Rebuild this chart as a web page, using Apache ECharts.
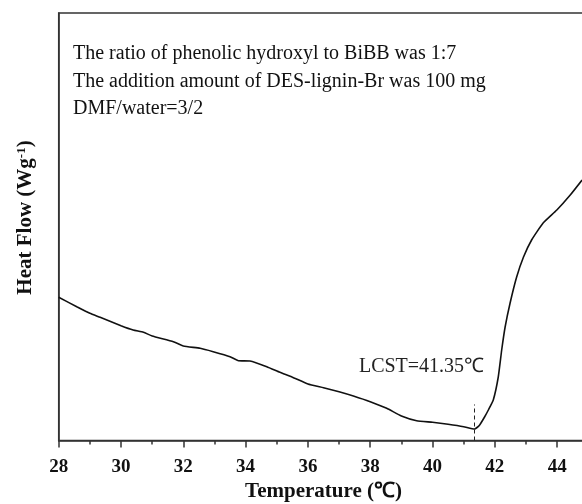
<!DOCTYPE html>
<html><head><meta charset="utf-8">
<script src="https://cdn.jsdelivr.net/npm/echarts@6/dist/echarts.min.js"></script>
<style>html,body{margin:0;padding:0;background:#fff}#c{width:582px;height:504px}</style>
</head><body><div id="c"></div>
<script>
// Temperature (°C)
const temps = [28, 28.58, 29, 29.33, 30, 30.39, 30.72, 31, 31.68, 32, 32.54, 32.96, 33.5, 33.77, 34.14, 34.68, 35.1, 35.5, 36, 36.5, 37, 37.46, 38, 38.53, 39, 39.49, 40, 40.5, 41, 41.35, 41.5, 41.67, 41.8, 41.95, 42.11, 42.22, 42.33, 42.49, 42.7, 42.92, 43.18, 43.55, 43.99, 44.42, 44.8];
// Heat flow (arbitrary units)
const heatFlow = [143.2, 133.8, 127.2, 123.2, 114.8, 110.5, 108.2, 104.5, 98.8, 94.5, 92.2, 88.8, 83.8, 79.8, 79.5, 73.8, 68.2, 63.3, 56.5, 52.8, 48.8, 44.5, 38.8, 32.2, 24.5, 19.8, 18.2, 16.2, 13.8, 11.5, 15, 23.5, 31, 40.5, 63.5, 90.5, 113.5, 137.5, 163.5, 183.5, 200.5, 217.5, 230.5, 245.5, 260.5];
const lcst = 41.35;
const lcstLine = [0, 36];
const xTicks = [28, 30, 32, 34, 36, 38, 40, 42, 44];
const notes = ['The ratio of phenolic hydroxyl to BiBB was 1:7', 'The addition amount of DES-lignin-Br was 100 mg', 'DMF/water=3/2'];

const chart = echarts.init(document.getElementById('c'), null, {renderer: 'canvas'});
const serif = '"Liberation Serif", "Times New Roman", serif';
chart.setOption({
  animation: false,
  grid: {left: 58.7, top: 13, width: 529.6, bottom: 63.5, show: true, borderColor: '#333', borderWidth: 1.5,
    containLabel: false, outerBoundsMode: 'none'},
  xAxis: {
    type: 'value', min: 28, max: 45, interval: 2,
    name: 'Temperature (℃)', nameLocation: 'middle', nameGap: 41,
    nameTextStyle: {fontFamily: serif, fontWeight: 'bold', fontSize: 21, color: '#111'},
    axisLine: {show: true, lineStyle: {color: '#333', width: 1.5}},
    axisTick: {show: true, length: 7, inside: false, lineStyle: {color: '#333', width: 1.5}},
    minorTick: {show: true, splitNumber: 2, length: 4, lineStyle: {color: '#333', width: 1.5}},
    axisLabel: {fontFamily: serif, fontWeight: 'bold', fontSize: 19, color: '#111', margin: 17,
      formatter: v => xTicks.includes(v) ? String(v) : ''},
    splitLine: {show: false}
  },
  yAxis: {
    type: 'value', min: 0, max: 427.5,
    axisLine: {show: true, lineStyle: {color: '#333', width: 1.5}},
    axisTick: {show: false}, axisLabel: {show: false}, splitLine: {show: false}
  },
  series: [{
    type: 'line', data: temps.map((t, i) => [t, heatFlow[i]]),
    showSymbol: false, smooth: 0.15,
    lineStyle: {color: '#111', width: 1.6},
    markLine: {
      silent: true, symbol: 'none',
      lineStyle: {type: [4, 3], color: '#222', width: 1},
      label: {show: false},
      data: [[{coord: [lcst, lcstLine[0]]}, {coord: [lcst, lcstLine[1]]}]]
    }
  }],
  graphic: [
    {type: 'text', left: 73, top: 40, style: {text: notes.join('\n'), font: '20px ' + serif, fill: '#111', lineHeight: 27.5}},
    {type: 'text', x: 421.5, y: 367, style: {text: 'LCST=' + lcst + '℃', font: '20px ' + serif, fill: '#222', align: 'center', verticalAlign: 'middle'}},
    {type: 'text', x: 26, y: 217.5, rotation: Math.PI / 2,
      style: {text: '{b|Heat Flow (Wg}{s|-1}{b|)}', align: 'center', verticalAlign: 'middle',
        rich: {
          b: {fontFamily: serif, fontWeight: 'bold', fontSize: 21, fill: '#111', color: '#111'},
          s: {fontFamily: serif, fontWeight: 'bold', fontSize: 13, fill: '#111', color: '#111', verticalAlign: 'top', padding: [0, 0, 6, 0]}
        }}}
  ]
});
</script></body></html>
